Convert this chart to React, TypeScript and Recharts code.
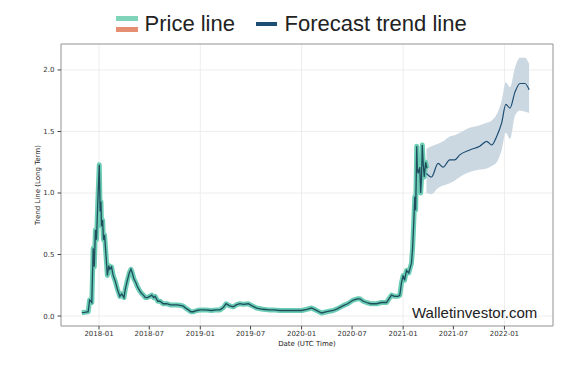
import React from 'react'
import { ComposedChart, Line, Area, XAxis, YAxis, CartesianGrid, ReferenceArea } from 'recharts'

const priceDates = [
  '2017-10-31', '2017-11-10', '2017-11-23', '2017-11-28', '2017-12-03', '2017-12-06', '2017-12-11', '2017-12-15',
  '2017-12-19', '2017-12-23', '2017-12-28', '2018-01-02', '2018-01-05', '2018-01-08', '2018-01-10', '2018-01-14',
  '2018-01-17', '2018-01-21', '2018-01-26', '2018-01-31', '2018-02-05', '2018-02-09', '2018-02-15', '2018-02-21',
  '2018-03-01', '2018-03-08', '2018-03-17', '2018-03-24', '2018-04-01', '2018-04-06', '2018-04-12', '2018-04-20',
  '2018-04-26', '2018-05-01', '2018-05-07', '2018-05-14', '2018-05-19', '2018-05-29', '2018-06-05', '2018-06-10',
  '2018-06-17', '2018-06-24', '2018-07-03', '2018-07-10', '2018-07-17', '2018-07-22', '2018-08-01', '2018-08-09',
  '2018-08-20', '2018-09-02', '2018-09-15', '2018-09-26', '2018-10-10', '2018-10-25', '2018-11-01', '2018-11-12',
  '2018-11-19', '2018-11-28', '2018-12-07', '2018-12-20', '2018-12-31', '2019-01-20', '2019-02-10', '2019-03-01',
  '2019-03-13', '2019-03-25', '2019-04-04', '2019-04-15', '2019-04-30', '2019-05-10', '2019-05-24', '2019-06-05',
  '2019-06-23', '2019-07-05', '2019-07-23', '2019-08-15', '2019-09-05', '2019-09-21', '2019-10-15', '2019-11-05',
  '2019-12-02', '2020-01-01', '2020-01-20', '2020-02-06', '2020-02-20', '2020-03-13', '2020-04-01', '2020-04-24',
  '2020-05-10', '2020-05-30', '2020-06-15', '2020-07-05', '2020-07-20', '2020-07-29', '2020-08-10', '2020-08-22',
  '2020-09-05', '2020-09-27', '2020-10-15', '2020-11-02', '2020-11-20', '2020-12-01', '2020-12-14', '2020-12-20',
  '2020-12-26', '2021-01-01', '2021-01-06', '2021-01-13', '2021-01-21', '2021-01-31', '2021-02-04', '2021-02-08',
  '2021-02-12', '2021-02-15', '2021-02-17', '2021-02-19', '2021-02-21', '2021-02-24', '2021-03-02', '2021-03-05',
  '2021-03-08', '2021-03-11', '2021-03-14', '2021-03-18', '2021-03-23', '2021-03-28',
]
const priceValues = [
  0.027, 0.03, 0.035, 0.13, 0.12, 0.11, 0.55, 0.4,
  0.7, 0.62, 0.95, 1.23, 0.85, 0.93, 0.73, 0.78,
  0.62, 0.66, 0.5, 0.33, 0.41, 0.38, 0.4, 0.33,
  0.28, 0.22, 0.16, 0.18, 0.15, 0.22, 0.28, 0.35,
  0.38, 0.35, 0.3, 0.27, 0.24, 0.2, 0.18, 0.17,
  0.15, 0.15, 0.16, 0.17, 0.15, 0.16, 0.12, 0.12,
  0.1, 0.1, 0.09, 0.09, 0.09, 0.085, 0.08, 0.06,
  0.05, 0.035, 0.035, 0.045, 0.05, 0.05, 0.045, 0.05,
  0.05, 0.07, 0.1, 0.085, 0.075, 0.09, 0.1, 0.095,
  0.1, 0.085, 0.065, 0.055, 0.05, 0.05, 0.045, 0.045,
  0.045, 0.045, 0.055, 0.065, 0.05, 0.025, 0.035, 0.045,
  0.06, 0.085, 0.1, 0.13, 0.14, 0.14, 0.12, 0.11,
  0.1, 0.1, 0.11, 0.11, 0.17, 0.16, 0.16, 0.17,
  0.27, 0.33, 0.29, 0.37, 0.35, 0.43, 0.55, 0.75,
  0.97, 0.86, 1.1, 1.38, 1.2, 1.16, 1.21, 1.0,
  1.11, 1.39, 1.25, 1.13, 1.25, 1.2,
]

const forecastDates = [
  '2021-03-26', '2021-04-13', '2021-05-07', '2021-05-25', '2021-06-18', '2021-07-06', '2021-07-24', '2021-08-29',
  '2021-10-04', '2021-10-29', '2021-11-16', '2021-12-04', '2021-12-22', '2022-01-06', '2022-01-21', '2022-02-08',
  '2022-02-26', '2022-03-16', '2022-03-31',
]
const forecastValues = [
  1.16, 1.13, 1.24, 1.21, 1.27, 1.27, 1.31, 1.35,
  1.38, 1.42, 1.39, 1.46, 1.57, 1.72, 1.69, 1.82,
  1.89, 1.89, 1.84,
]
const forecastLower = [
  1.0, 0.99, 1.04, 1.06, 1.08, 1.1, 1.13, 1.17,
  1.19, 1.2, 1.22, 1.25, 1.35, 1.49, 1.44, 1.63,
  1.67, 1.66, 1.65,
]
const forecastUpper = [
  1.36, 1.38, 1.4, 1.42, 1.46, 1.47, 1.49, 1.53,
  1.55, 1.57, 1.59, 1.64, 1.75, 1.9, 1.86, 2.02,
  2.1, 2.1, 2.05,
]

const xTickLabels = ['2018-01', '2018-07', '2019-01', '2019-07', '2020-01', '2020-07', '2021-01', '2021-07', '2022-01']
const yTicks = [0, 0.5, 1, 1.5, 2]

const X_MIN = Date.UTC(2017, 7, 17)
const X_MAX = Date.UTC(2022, 5, 25)
const Y_MIN = -0.081
const Y_MAX = 2.211

const ts = (d: string) => Date.parse(d + 'T00:00:00Z')

const priceData = priceDates.map((d, i) => ({ t: ts(d), price: priceValues[i] }))
const forecastData = forecastDates.map((d, i) => ({
  t: ts(d),
  forecast: forecastValues[i],
  band: [forecastLower[i], forecastUpper[i]],
}))
const xTicks = xTickLabels.map((m) => ts(m + '-01'))

const TICK_FONT = { fontSize: 7, fill: '#333', fontFamily: 'DejaVu Sans' }

const YTitle = (props: any) => {
  const { viewBox } = props
  const cx = viewBox.x + 16.7
  const cy = viewBox.y + viewBox.height / 2
  return (
    <text
      x={cx}
      y={cy}
      transform={`rotate(-90, ${cx}, ${cy})`}
      textAnchor="middle"
      dominantBaseline="central"
      fontSize={7}
      fontFamily="DejaVu Sans"
      fill="#222"
    >
      Trend Line (Long Term)
    </text>
  )
}

export default function App() {
  return (
    <div style={{ position: 'absolute', left: 0, top: 0, width: 585, height: 366, background: '#fff' }}>
      {/* legend */}
      <div
        style={{
          position: 'absolute',
          left: 116,
          top: 13,
          display: 'flex',
          alignItems: 'center',
          fontFamily: '"Liberation Sans", Arial, sans-serif',
          fontSize: 22,
          lineHeight: '22px',
          color: '#222',
        }}
      >
        <div style={{ position: 'relative', width: 22, height: 22 }}>
          <div style={{ position: 'absolute', left: 0, top: 3, width: 22, height: 4.5, background: '#80d4b9' }} />
          <div style={{ position: 'absolute', left: 0, top: 14, width: 22, height: 4.5, background: '#e58e72' }} />
        </div>
        <span style={{ marginLeft: 6.5 }}>Price line</span>
        <div style={{ marginLeft: 21.5, width: 21, height: 4.5, background: '#1d4e74' }} />
        <span style={{ marginLeft: 7 }}>Forecast trend line</span>
      </div>

      <ComposedChart width={585} height={366} margin={{ top: 44, right: 32, bottom: 0, left: 21 }}>
        <CartesianGrid stroke="#e8e8e8" strokeWidth={0.8} />
        <XAxis
          dataKey="t"
          type="number"
          domain={[X_MIN, X_MAX]}
          ticks={xTicks}
          allowDataOverflow
          tickFormatter={(v: number) => new Date(v).toISOString().slice(0, 7)}
          tick={TICK_FONT}
          tickSize={3.5}
          tickMargin={2}
          tickLine={{ stroke: '#444' }}
          axisLine={false}
          height={40}
          label={{
            value: 'Date (UTC Time)',
            position: 'insideBottom',
            offset: 20,
            fontSize: 7,
            fontFamily: 'DejaVu Sans',
            fill: '#222',
          }}
        />
        <YAxis
          type="number"
          domain={[Y_MIN, Y_MAX]}
          ticks={yTicks}
          allowDataOverflow
          tickFormatter={(v: number) => v.toFixed(1)}
          tick={TICK_FONT}
          tickSize={3.5}
          tickMargin={3}
          tickLine={{ stroke: '#444' }}
          axisLine={false}
          width={40}
          label={<YTitle />}
        />
        <ReferenceArea x1={X_MIN} x2={X_MAX} y1={Y_MIN} y2={Y_MAX} fill="none" stroke="#9a9a9a" strokeWidth={1} />
        <Area
          data={forecastData}
          dataKey="band"
          type="monotone"
          stroke="none"
          fill="#ccd8e1"
          fillOpacity={1}
          isAnimationActive={false}
        />
        <Line
          data={priceData}
          dataKey="price"
          type="linear"
          stroke="#6ccdb5"
          strokeWidth={5}
          strokeLinejoin="round"
          dot={false}
          isAnimationActive={false}
        />
        <Line
          data={priceData}
          dataKey="price"
          type="linear"
          stroke="#1f4d5e"
          strokeWidth={1.3}
          dot={false}
          isAnimationActive={false}
        />
        <Line
          data={forecastData}
          dataKey="forecast"
          type="monotone"
          stroke="#1d4e74"
          strokeWidth={1.2}
          dot={false}
          isAnimationActive={false}
        />
      </ComposedChart>

      <div
        style={{
          position: 'absolute',
          left: 412,
          top: 305,
          fontFamily: '"Liberation Sans", Arial, sans-serif',
          fontSize: 15,
          lineHeight: '15px',
          color: '#222',
        }}
      >
        Walletinvestor.com
      </div>
    </div>
  )
}
